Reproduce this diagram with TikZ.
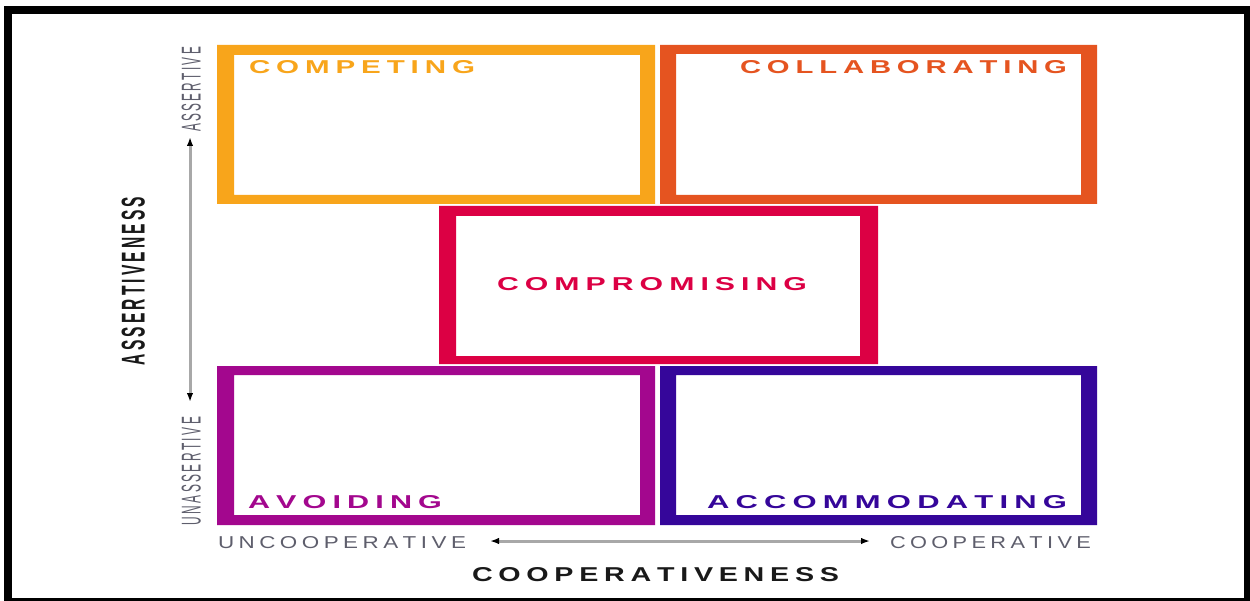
\documentclass[tikz,border=0pt]{standalone}
\usepackage{fontspec}
\setmainfont{Liberation Sans}
\usetikzlibrary{arrows.meta}

% one unit of the drawing grid
\newdimen\pxu \pxu=0.02cm

% letter tracking: puts a kern between the letters of a word
\def\trkgap{0.2em}
\def\trkA#1#2{#1\ifx#2\relax\else\kern\trkgap\relax\expandafter\trkA\expandafter#2\fi}
\newcommand\trk[1]{\trkA#1\relax}
% tracked word fitted to a given width and cap height (in grid units)
\newcommand\fitword[4]{\resizebox{#1\pxu}{#2\pxu}{#3\trk{#4}}}

\definecolor{cCompete}{HTML}{F8A51B}
\definecolor{cCollab}{HTML}{E55420}
\definecolor{cCompro}{HTML}{DC0044}
\definecolor{cAvoid}{HTML}{A3078E}
\definecolor{cAccom}{HTML}{35069A}
\definecolor{axisgray}{HTML}{A8A8A8}
\definecolor{axistext}{HTML}{5E5E6C}

\tikzset{
  word/.style={inner sep=0pt, outer sep=0pt, anchor=south west},
  vword/.style={word, rotate=90},
  modebox/.style={even odd rule},
  axisline/.style={draw=axisgray, line width=0.06cm,
    {Latex[length=0.18cm,width=0.13cm,color=black]}-{Latex[length=0.18cm,width=0.13cm,color=black]}},
}

\begin{document}
\begin{tikzpicture}[x=0.02cm,y=-0.02cm]
\useasboundingbox (0,0) rectangle (1250,601);
\fill[white] (0,0) rectangle (1250,601);

% outer frame
\fill[black] (4,6) rectangle (1250,601);
\fill[white] (12,14) rectangle (1244,598);

% the five conflict-mode boxes
\fill[cCompete, modebox] (217,45) rectangle (655,204) (234,55) rectangle (640,195);
\fill[cCollab, modebox]  (660,45) rectangle (1097,204) (676,54) rectangle (1081,195);
\fill[cCompro, modebox]  (439,206) rectangle (878,364) (456,216) rectangle (860,356);
\fill[cAvoid, modebox]   (217,366) rectangle (655,525) (234,375) rectangle (640,515);
\fill[cAccom, modebox]   (660,366) rectangle (1097,525) (676,375) rectangle (1081,515);

% box titles
\node[word, text=cCompete] (competing) at (249,74) {\fitword{226}{13}{\bfseries}{COMPETING}};
\node[word, text=cCollab] (collaborating) at (740,74) {\fitword{327}{13}{\bfseries}{COLLABORATING}};
\node[word, text=cCompro] (compromising) at (497,291) {\fitword{310}{13}{\bfseries}{COMPROMISING}};
\node[word, text=cAvoid] (avoiding) at (248,509) {\fitword{194}{13}{\bfseries}{AVOIDING}};
\node[word, text=cAccom] (accommodating) at (707,509) {\fitword{360}{13}{\bfseries}{ACCOMMODATING}};

% horizontal axis
\node[word, text=axistext] (uncoop) at (218,549) {\fitword{248}{12}{}{UNCOOPERATIVE}};
\node[word, text=axistext] (coop) at (890,549) {\fitword{201}{12}{}{COOPERATIVE}};
\coordinate (hl) at (490,541);
\coordinate (hr) at (870,541);
\draw[axisline] (hl) -- (hr);
\node[word, text=black!90] (coopness) at (472,582) {\fitword{367}{14}{\bfseries}{COOPERATIVENESS}};

% vertical axis
\node[vword, text=axistext] (assert) at (201,132) {\fitword{85}{19}{}{ASSERTIVE}};
\node[vword, text=axistext] (unassert) at (201,525) {\fitword{108}{19}{}{UNASSERTIVE}};
\coordinate (vt) at (190,137);
\coordinate (vb) at (190,402);
\draw[axisline] (vb) -- (vt);
\node[vword, text=black!90] (assertness) at (145,365) {\fitword{168}{23}{\bfseries}{ASSERTIVENESS}};
\end{tikzpicture}
\end{document}
